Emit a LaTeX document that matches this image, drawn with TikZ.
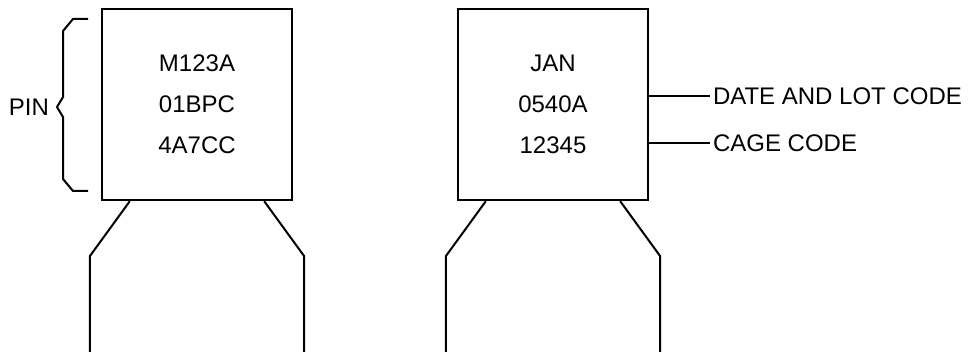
\documentclass[tikz,border=0pt]{standalone}
\usepackage{fontspec}
\setmainfont{Liberation Sans}
\usetikzlibrary{positioning}

\begin{document}
\begin{tikzpicture}
	[x=0.5pt,y=-0.5pt,line width=1pt,
	chip/.style={shape=rectangle,draw,line width=1.2pt,minimum width=95pt,
		minimum height=95.5pt,inner sep=0pt,align=center,
		font=\fontsize{12}{20.5}\selectfont},
	lbl/.style={font=\fontsize{12}{14}\selectfont,inner sep=1pt}]
	\useasboundingbox (0,0) rectangle (969,352);

	% left part
	\node (lchip) [chip] at (197,104.5) {M123A\\01BPC\\4A7CC};
	\draw ([xshift=14.5pt]lchip.south west) -- ++(-40,55) -- ++(0,97);
	\draw ([xshift=-14.5pt]lchip.south east) -- ++(40,55) -- ++(0,97);

	% brace for the pin
	\node (pin) [lbl,anchor=east] at (52,107) {PIN};
	\coordinate (tip) at (57,107);
	\draw (88,19) -- (73,19) -- (63,31) -- (63,97) -- (tip)
		-- (63,117) -- (63,179) -- (73,191) -- (88,191);

	% right part
	\node (rchip) [chip] at (553,104.5) {JAN\\0540A\\12345};
	\draw ([xshift=14.5pt]rchip.south west) -- ++(-40,55) -- ++(0,97);
	\draw ([xshift=-14.5pt]rchip.south east) -- ++(40,55) -- ++(0,97);

	\node (date) [lbl,anchor=west] at (710,96) {DATE AND LOT CODE};
	\node (cage) [lbl,anchor=west] at (710,143) {CAGE CODE};
	\draw (rchip.east |- date.west) -- (date.west);
	\draw (rchip.east |- cage.west) -- (cage.west);
\end{tikzpicture}
\end{document}
